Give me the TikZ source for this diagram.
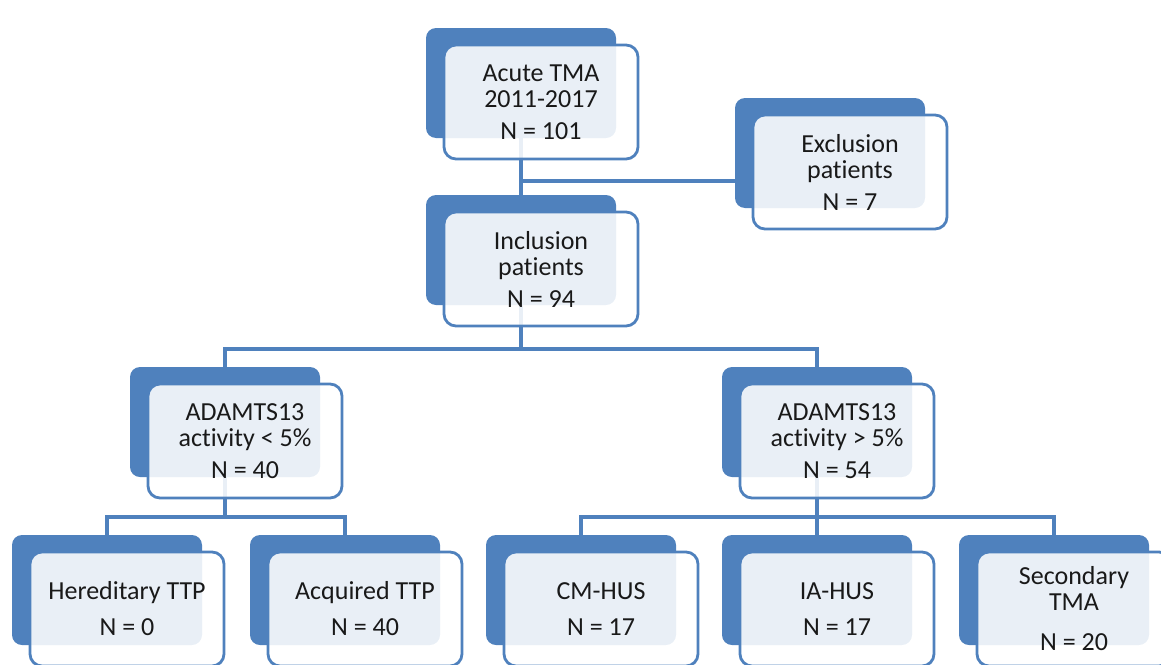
\documentclass[tikz,border=0pt]{standalone}
\usepackage{fontspec}
\setmainfont[Ligatures={NoCommon}]{Carlito}
\usetikzlibrary{positioning}
\definecolor{boxblue}{RGB}{79,129,189}
\tikzstyle{block} = [rectangle, inner sep=0pt, align=center]
\tikzstyle{back} = [block, minimum width=190pt, minimum height=110pt, rounded corners=10pt, fill=boxblue]
\tikzstyle{front} = [block, minimum width=194pt, minimum height=114pt, rounded corners=12pt, draw=boxblue, line width=2.8pt, fill=white, fill opacity=0.88, text opacity=1, text=black!90, font=\fontsize{26}{26}\selectfont, xshift=20pt, yshift=-19pt]
\tikzstyle{link} = [draw=boxblue, line width=3.5pt]

\begin{document}
\begin{tikzpicture}[x=1pt, y=-1pt]
    \useasboundingbox (0,0) rectangle (1161,664);
    \clip (0,0) rectangle (1161,664);

    % Back boxes.
    \node (acute) [back] at (521,83) {};
    \node (excl) [back] at (830,153) {};
    \node (incl) [back] at (521,250) {};
    \node (low) [back] at (225,422) {};
    \node (high) [back] at (817,422) {};
    \foreach \n/\x in {hered/107, acq/345, cm/581, ia/817, sec/1054} {
        \node (\n) [back] at (\x,590) {};
    }

    % Connectors.
    \draw [link] (acute.south) -- (incl.north);
    \path (acute.south) ++(0,43) coordinate (split);
    \draw [link] (split) -- (split -| excl.west);

    \foreach \b in {low, high} {
        \draw [link] (incl.south) -- ++(0,44) -| (\b.north);
    }
    \foreach \b in {hered, acq} {
        \draw [link] (low.south) -- ++(0,40) -| (\b.north);
    }
    \foreach \b in {cm, ia, sec} {
        \draw [link] (high.south) -- ++(0,40) -| (\b.north);
    }

    % Front boxes.
    \node (acutef) [front] at (acute) {Acute TMA\\2011-2017\\[6pt]N = 101};
    \node (exclf) [front] at (excl) {Exclusion\\patients\\[6pt]N = 7};
    \node (inclf) [front] at (incl) {Inclusion\\patients\\[6pt]N = 94};
    \node (lowf) [front] at (low) {ADAMTS13\\activity < 5\%\\[6pt]N = 40};
    \node (highf) [front] at (high) {ADAMTS13\\activity > 5\%\\[6pt]N = 54};
    \node (heredf) [front] at (hered) {Hereditary TTP\\[10pt]N = 0};
    \node (acqf) [front] at (acq) {Acquired TTP\\[10pt]N = 40};
    \node (cmf) [front] at (cm) {CM-HUS\\[10pt]N = 17};
    \node (iaf) [front] at (ia) {IA-HUS\\[10pt]N = 17};
    \node (secf) [front] at (sec) {Secondary\\TMA\\[14pt]N = 20};
\end{tikzpicture}
\end{document}
